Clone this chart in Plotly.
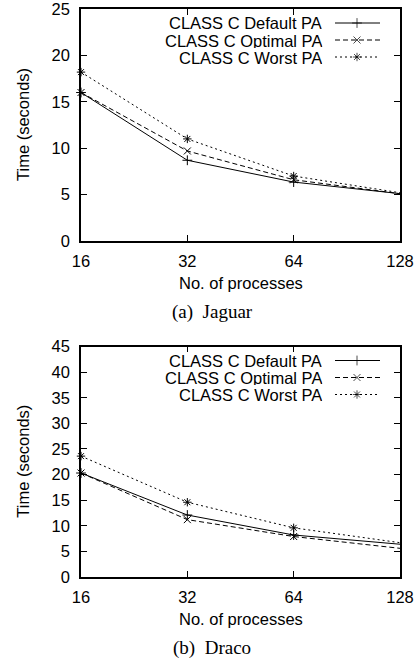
import plotly.graph_objects as go

# ---- data ----
procs = [16, 32, 64, 128]
tick_labels = ["16", "32", "64", "128"]
series_names = ["CLASS C Default PA", "CLASS C Optimal PA", "CLASS C Worst PA"]

jaguar_default = [16.0, 8.7, 6.35, 5.1]
jaguar_optimal = [16.0, 9.7, 6.6, 5.1]
jaguar_worst = [18.2, 11.0, 7.0, 5.2]

draco_default = [20.3, 12.1, 8.2, 6.4]
draco_optimal = [20.3, 11.2, 7.9, 5.6]
draco_worst = [23.6, 14.6, 9.6, 6.7]

jaguar_yticks = [0, 5, 10, 15, 20, 25]
draco_yticks = [0, 5, 10, 15, 20, 25, 30, 35, 40, 45]

# ---- style ----
W, H = 420, 662
SANS = "Liberation Sans, Arial, sans-serif"
SERIF = "Liberation Serif, Times New Roman, serif"
FS = 16.5
LFS = 16.5
styles = [
    dict(dash="solid", symbol="cross-thin-open"),
    dict(dash="5px,3px", symbol="x-thin-open"),
    dict(dash="2px,3px", symbol="asterisk-open"),
]

def px_x(p):
    return p / W

def px_y(p):
    return 1 - p / H

fig = go.Figure()

panels = [
    dict(xa="x", ya="y", data=[jaguar_default, jaguar_optimal, jaguar_worst],
         top=9, bot=241, yr=[0, 25], yt=jaguar_yticks, caption="(a)  Jaguar"),
    dict(xa="x2", ya="y2", data=[draco_default, draco_optimal, draco_worst],
         top=346.5, bot=577, yr=[0, 45], yt=draco_yticks, caption="(b)  Draco"),
]

left, right = 81, 400

for k, pn in enumerate(panels):
    for i, ys in enumerate(pn["data"]):
        st = styles[i]
        fig.add_trace(go.Scatter(
            x=procs, y=ys, xaxis=pn["xa"], yaxis=pn["ya"], mode="lines+markers",
            line=dict(color="black", width=1, dash=st["dash"]),
            marker=dict(symbol=st["symbol"], size=7, color="black",
                        line=dict(color="black", width=1)),
            showlegend=False, cliponaxis=False, name=series_names[i]))

    axn = "" if k == 0 else "2"
    fig.layout["xaxis" + axn] = dict(
        domain=[px_x(left), px_x(right)], anchor="y" + axn, type="log",
        range=[1.2041, 2.1072], tickvals=procs, ticktext=tick_labels,
        ticks="inside", ticklen=6, tickwidth=1, tickcolor="black",
        showline=True, linecolor="black", linewidth=1.5, mirror="ticks",
        showgrid=False, zeroline=False, ticklabelstandoff=4, automargin=False,
        ticklabeloverflow="allow",
        tickfont=dict(family=SANS, size=FS, color="black"), fixedrange=True)
    fig.layout["yaxis" + axn] = dict(
        domain=[px_y(pn["bot"]), px_y(pn["top"])], anchor="x" + axn,
        range=pn["yr"], tickvals=pn["yt"],
        ticks="inside", ticklen=6, tickwidth=1, tickcolor="black",
        showline=True, linecolor="black", linewidth=1.5, mirror="ticks",
        showgrid=False, zeroline=False, ticklabelstandoff=6, automargin=False,
        ticklabeloverflow="allow",
        tickfont=dict(family=SANS, size=FS, color="black"), fixedrange=True)

    mid = (pn["top"] + pn["bot"]) / 2
    fig.add_annotation(x=px_x(23), y=px_y(mid), xref="paper", yref="paper",
                       text="Time (seconds)", textangle=-90, showarrow=False,
                       font=dict(family=SANS, size=FS, color="black"),
                       xanchor="center", yanchor="middle")
    fig.add_annotation(x=px_x(241), y=px_y(pn["bot"] + 42), xref="paper", yref="paper",
                       text="No. of processes", showarrow=False,
                       font=dict(family=SANS, size=FS, color="black"),
                       xanchor="center", yanchor="middle")
    fig.add_annotation(x=px_x(212), y=px_y(pn["bot"] + 71), xref="paper", yref="paper",
                       text=pn["caption"], showarrow=False,
                       font=dict(family=SERIF, size=19, color="black"),
                       xanchor="center", yanchor="middle")

    # manual legend (gnuplot style: text right-aligned, sample to the right)
    for i, name in enumerate(series_names):
        ry = pn["top"] + 14 + 17 * i
        fig.add_annotation(x=px_x(324), y=px_y(ry), xref="paper", yref="paper",
                           text=name, showarrow=False, height=15,
                           font=dict(family=SANS, size=LFS, color="black"),
                           xanchor="right", yanchor="middle")
        st = styles[i]
        fig.add_trace(go.Scatter(
            x=[335, 357, 380], y=[ry, ry, ry], xaxis="x3", yaxis="y3",
            mode="lines+markers",
            line=dict(color="black", width=1, dash=st["dash"]),
            marker=dict(symbol=st["symbol"], size=[0, 7, 0], color="black",
                        line=dict(color="black", width=1)),
            showlegend=False, hoverinfo="skip", cliponaxis=False))

fig.layout["xaxis3"] = dict(domain=[0, 1], range=[0, W], visible=False,
                            anchor="y3", fixedrange=True, automargin=False)
fig.layout["yaxis3"] = dict(domain=[0, 1], range=[H, 0], visible=False,
                            anchor="x3", fixedrange=True, automargin=False)

fig.update_layout(
    width=W, height=H, margin=dict(l=0, r=0, t=0, b=0, autoexpand=False),
    paper_bgcolor="white", plot_bgcolor="rgba(0,0,0,0)", showlegend=False,
)

fig.write_html(
    "out.html",
    config={"displayModeBar": False},
    post_script="document.body.style.margin='0px';document.body.style.overflow='hidden';",
)
